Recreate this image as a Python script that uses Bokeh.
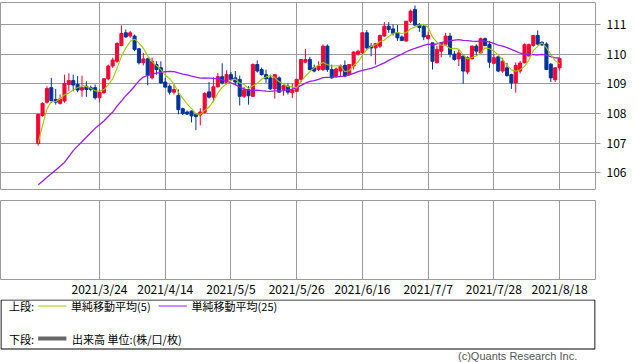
import numpy as np
from bokeh.plotting import figure
from bokeh.layouts import column
from bokeh.models import Range1d, FixedTicker, ColumnDataSource
from bokeh.core.properties import value
from bokeh.embed import file_html
from bokeh.resources import INLINE

# ---------------- data ----------------
opens = [106.99, 107.93, 108.38, 108.87, 108.47, 108.34, 108.42, 108.98, 109.11, 108.98,
         108.79, 108.92, 108.87, 108.87, 108.53, 108.70, 109.17, 109.60, 109.76, 110.29,
         110.72, 110.61, 110.61, 110.18, 109.71, 109.84, 109.20, 109.65, 109.54, 109.06,
         108.92, 108.72, 108.61, 108.16, 108.05, 108.08, 107.97, 107.95, 108.04, 108.73,
         108.55, 108.90, 109.24, 109.03, 109.31, 109.20, 109.15, 108.58, 108.80, 108.58,
         109.65, 109.48, 109.31, 109.20, 108.83, 109.20, 108.81, 108.92, 108.70, 108.75,
         109.15, 109.73, 109.82, 109.54, 109.48, 109.48, 110.27, 109.48, 109.24, 109.43,
         109.62, 109.31, 109.60, 110.00, 110.05, 110.72, 110.27, 110.21, 110.27, 110.61,
         110.94, 110.85, 110.72, 110.58, 110.44, 111.11, 111.50, 111.00, 110.94, 110.52,
         110.38, 109.71, 110.10, 110.33, 110.61, 110.00, 109.84, 109.93, 109.40, 109.84,
         110.27, 110.04, 110.52, 110.33, 109.69, 109.91, 109.43, 109.54, 109.31, 109.03,
         109.43, 109.71, 109.94, 110.29, 110.63, 110.40, 110.34, 109.66, 109.14, 109.54]
highs = [107.98, 108.38, 108.92, 109.20, 108.83, 108.64, 109.31, 109.35, 109.31, 109.26,
         109.28, 109.09, 108.94, 108.98, 108.81, 109.20, 109.65, 109.88, 110.40, 110.97,
         110.83, 110.78, 110.66, 110.21, 110.04, 109.88, 109.88, 109.76, 109.76, 109.20,
         108.98, 108.98, 108.81, 108.20, 108.10, 108.10, 108.00, 108.18, 108.72, 109.06,
         109.22, 109.37, 109.69, 109.46, 109.40, 109.43, 109.28, 108.90, 108.92, 109.69,
         109.79, 109.55, 109.48, 109.31, 109.31, 109.25, 108.98, 109.01, 109.01, 109.17,
         109.82, 110.18, 109.91, 109.65, 109.76, 110.33, 110.33, 109.65, 109.55, 109.65,
         109.79, 109.65, 110.10, 110.15, 110.72, 110.81, 110.38, 110.38, 110.66, 111.08,
         111.08, 111.00, 110.98, 110.63, 111.11, 111.50, 111.64, 111.05, 110.98, 110.75,
         110.38, 110.27, 110.40, 110.72, 110.72, 110.11, 110.15, 109.99, 109.93, 110.29,
         110.33, 110.56, 110.56, 110.44, 110.00, 109.93, 109.88, 109.71, 109.34, 109.72,
         109.77, 110.36, 110.36, 110.65, 110.80, 110.43, 110.40, 109.70, 109.56, 109.87]
lows = [106.92, 107.89, 108.34, 108.36, 108.30, 108.30, 108.36, 108.75, 108.75, 108.72,
        108.56, 108.56, 108.75, 108.47, 108.38, 108.67, 109.12, 109.54, 109.71, 110.27,
        110.55, 110.55, 110.10, 109.65, 109.62, 108.95, 109.15, 109.31, 109.01, 108.87,
        108.64, 108.64, 107.97, 107.95, 107.95, 107.70, 107.44, 107.60, 108.00, 108.50,
        108.38, 108.88, 108.98, 108.98, 109.10, 108.98, 108.27, 108.52, 108.30, 108.55,
        109.38, 109.28, 109.03, 108.80, 108.50, 108.70, 108.60, 108.64, 108.52, 108.72,
        109.05, 109.70, 109.46, 109.39, 109.43, 109.43, 109.40, 109.17, 109.20, 109.26,
        109.22, 109.28, 109.48, 109.95, 109.99, 110.15, 109.93, 109.65, 110.21, 110.58,
        110.72, 110.63, 110.45, 110.44, 110.42, 111.05, 110.95, 110.75, 110.47, 110.50,
        109.48, 109.69, 109.90, 110.28, 109.89, 109.78, 109.60, 109.00, 109.32, 109.84,
        109.95, 110.04, 110.27, 109.54, 109.66, 109.40, 109.37, 109.24, 108.83, 108.70,
        109.35, 109.69, 109.92, 110.25, 110.30, 110.28, 109.48, 109.06, 109.06, 109.45]
closes = [107.97, 108.34, 108.84, 108.44, 108.38, 108.49, 109.01, 109.11, 108.96, 108.79,
          108.87, 108.81, 108.81, 108.53, 108.72, 109.17, 109.60, 109.80, 110.36, 110.70,
          110.58, 110.72, 110.16, 109.71, 109.84, 109.28, 109.76, 109.48, 109.03, 108.89,
          108.72, 108.81, 108.13, 108.00, 107.98, 107.92, 107.90, 108.05, 108.68, 108.55,
          108.90, 109.24, 109.03, 109.31, 109.15, 109.06, 108.58, 108.80, 108.60, 109.65,
          109.43, 109.31, 109.17, 108.83, 109.31, 108.72, 108.94, 108.72, 108.79, 109.15,
          109.82, 109.82, 109.48, 109.43, 109.60, 110.27, 109.48, 109.20, 109.50, 109.60,
          109.26, 109.65, 110.07, 110.10, 110.72, 110.21, 110.21, 110.36, 110.63, 110.94,
          110.83, 110.70, 110.55, 110.46, 111.11, 111.45, 110.98, 110.90, 110.58, 110.63,
          109.76, 110.16, 110.38, 110.61, 110.00, 109.82, 110.04, 109.43, 109.88, 110.27,
          110.10, 110.52, 110.29, 109.73, 109.88, 109.43, 109.76, 109.28, 109.03, 109.62,
          109.70, 110.32, 110.32, 110.63, 110.34, 110.31, 109.48, 109.20, 109.54, 109.85]

# moving-average values at the start of the window (they depend on earlier, unshown days)
ma5_start = [107.00, 107.60, 108.15, 108.40]
ma25_start = [105.60, 105.72, 105.85, 105.97, 106.10, 106.22, 106.35, 106.55, 106.75, 106.90,
              107.05, 107.20, 107.35, 107.50, 107.62, 107.75, 107.90, 108.05, 108.25, 108.42,
              108.60, 108.75, 108.92, 109.10]

date_ticks = [14, 29, 44, 59, 74, 89, 104, 119]
date_labels = ["2021/3/24", "2021/4/14", "2021/5/5", "2021/5/26",
               "2021/6/16", "2021/7/7", "2021/7/28", "2021/8/18"]
price_ticks = [106, 107, 108, 109, 110, 111]

legend_upper = "上段:"
legend_lower = "下段:"
ma5_label = "単純移動平均(5)"
ma25_label = "単純移動平均(25)"
volume_label = "出来高 単位:(株/口/枚)"
copyright_text = "(c)Quants Research Inc."

# ---------------- derived ----------------
n = len(closes)
xs = list(range(n))
c = np.array(closes)
ma5 = list(ma5_start) + [float(c[i - 4:i + 1].mean()) for i in range(4, n)]
ma25 = list(ma25_start) + [float(c[i - 24:i + 1].mean()) for i in range(24, n)]

UP = "#ff0033"
DOWN = "#003399"
GRID = "#9a9a9a"
FONT = "Noto Sans CJK JP"
W = 632
FW = 595

src = ColumnDataSource(dict(
    x=xs, open=opens, high=highs, low=lows, close=closes,
    top=[max(o, cl) for o, cl in zip(opens, closes)],
    bottom=[min(o, cl) for o, cl in zip(opens, closes)],
    color=[UP if cl >= o else DOWN for o, cl in zip(opens, closes)],
))

xr = Range1d(-8.6, 127.2)

# ---------------- main (price) panel ----------------
p = figure(frame_width=FW, frame_height=187, x_range=xr, y_range=Range1d(105.44, 111.74),
           y_axis_location="right", output_backend="svg", toolbar_location=None,
           min_border_left=0, min_border_top=2, min_border_bottom=5, min_border_right=W - FW)
p.outline_line_color = GRID
p.xaxis.visible = False
p.xgrid.ticker = FixedTicker(ticks=date_ticks)
p.xgrid.grid_line_color = GRID
p.ygrid.grid_line_color = GRID
p.yaxis.ticker = FixedTicker(ticks=price_ticks)
p.yaxis.axis_line_color = None
p.yaxis.major_tick_line_color = GRID
p.yaxis.major_tick_out = 5
p.yaxis.major_tick_in = 0
p.yaxis.minor_tick_line_color = None
p.yaxis.minor_tick_out = 0
p.yaxis.major_label_standoff = 6
p.yaxis.major_label_text_font = FONT
p.yaxis.major_label_text_font_size = "12px"
p.yaxis.major_label_text_color = "#000000"

p.segment(x0="x", y0="low", x1="x", y1="high", line_color="color", line_width=1, source=src)
p.vbar(x="x", width=0.7, top="top", bottom="bottom", fill_color="color",
       line_color="color", line_width=1, source=src)
p.line(xs, ma25, line_color="#9b1cff", line_width=1.3)
p.line(xs, ma5, line_color="#99cc00", line_width=1.1)

# ---------------- lower (volume) panel ----------------
pv = figure(frame_width=FW, frame_height=79, x_range=xr, y_range=Range1d(0, 1),
            output_backend="svg", toolbar_location=None,
            min_border_left=0, min_border_top=6, min_border_bottom=0, min_border_right=W - FW)
pv.outline_line_color = GRID
pv.yaxis.visible = False
pv.ygrid.visible = False
pv.xaxis.ticker = FixedTicker(ticks=date_ticks)
pv.xaxis.major_label_overrides = {t: l for t, l in zip(date_ticks, date_labels)}
pv.xaxis.axis_line_color = None
pv.xaxis.major_tick_line_color = None
pv.xaxis.minor_tick_line_color = None
pv.xaxis.major_tick_out = 0
pv.xaxis.major_tick_in = 0
pv.xaxis.minor_tick_out = 0
pv.xaxis.minor_tick_in = 0
pv.xaxis.major_label_standoff = 0
pv.xaxis.major_label_text_font = FONT
pv.xaxis.major_label_text_font_size = "12px"
pv.xaxis.major_label_text_color = "#000000"
pv.xgrid.grid_line_color = GRID

# ---------------- legend box ----------------
LH = 64
pl = figure(width=W, height=LH, x_range=Range1d(0, W), y_range=Range1d(LH, 0),
            output_backend="svg", toolbar_location=None, min_border=0)
pl.axis.visible = False
pl.grid.visible = False
pl.outline_line_color = None
pl.quad(left=[0.5], right=[W - 0.5], top=[0.5], bottom=[49.5], fill_color=None,
        line_color="#000000", line_width=1.2)
pl.segment(x0=[40, 168], y0=[6.5, 6.5], x1=[70, 198], y1=[6.5, 6.5],
           line_color=["#99cc00", "#9b1cff"], line_width=1.2)
pl.segment(x0=[40], y0=[39], x1=[70], y1=[39], line_color="#666666", line_width=4)
pl.text(x=[9, 75, 203, 9, 76], y=[6.5, 6.5, 6.5, 39, 39],
        text=[legend_upper, ma5_label, ma25_label, legend_lower, volume_label],
        text_font=value(FONT), text_font_size="11px", text_color="#000000",
        text_baseline="middle", text_align="left")
pl.text(x=[486], y=[56], text=[copyright_text], text_font=value("Liberation Sans"),
        text_font_size="11px", text_color="#555555", text_baseline="middle", text_align="left")

layout = column(p, pv, pl, spacing=0)
open("out.html", "w").write(file_html(layout, INLINE))
